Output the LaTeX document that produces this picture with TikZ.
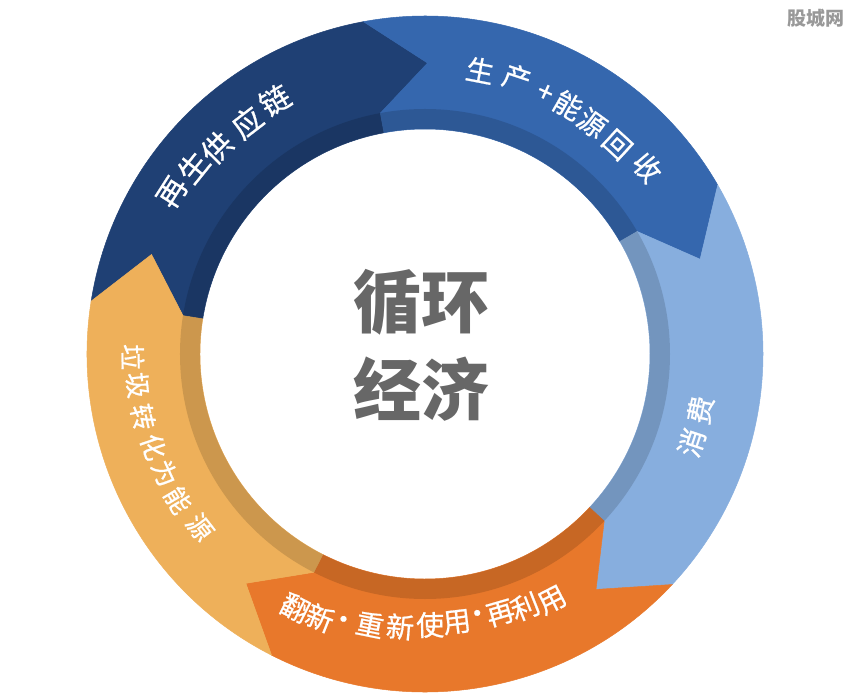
\documentclass[tikz,border=0pt]{standalone}
\usepackage{fontspec}
\newfontfamily\cjk{Noto Sans CJK SC}
\newfontfamily\cjkm[FakeBold=0.7]{Noto Sans CJK SC}
\definecolor{navy}{RGB}{31,64,116}
\definecolor{midblue}{RGB}{53,103,174}
\definecolor{ltblue}{RGB}{135,174,222}
\definecolor{orng}{RGB}{232,120,43}
\definecolor{ltorng}{RGB}{238,176,90}
\definecolor{ctrgray}{RGB}{103,103,103}
\def\Ro{338}\def\Ra{245}\def\Ri{225}\def\Rm{291}\def\dd{11}
\newcommand\ringseg[3]{%
  \fill[#3,draw=#3,line width=0.5pt] (#1:\Ro) arc[start angle=#1,end angle=#2,radius=\Ro]
    -- ({#2-\dd}:\Rm) -- (#2:\Ra) -- (#2:\Ri)
    arc[start angle=#2,end angle=#1,radius=\Ri]
    -- (#1:\Ra) -- ({#1-\dd}:\Rm) -- cycle;}
\tikzset{
  lbl/.style={font=\cjkm\fontsize{28}{28}\selectfont, text=white, inner sep=0pt, anchor=center},
  ctr/.style={font=\cjk\bfseries\fontsize{68}{68}\selectfont, text=ctrgray, inner sep=0pt},
  wmark/.style={font=\cjk\bfseries\fontsize{19}{19}\selectfont, text=black!40, inner sep=0pt}
}
\begin{document}
\begin{tikzpicture}[x=1pt,y=1pt]
\useasboundingbox (-425,-342) rectangle (429,354);
\fill[white] (-425,-342) rectangle (429,354);
% ring segments (tail angle, head angle)
\ringseg{171}{100.5}{navy}
\ringseg{100.5}{30}{midblue}
\ringseg{30}{-43}{ltblue}
\ringseg{-43}{-117}{orng}
\ringseg{243}{171}{ltorng}
% inner darker band
\fill[black,opacity=0.14,even odd rule] (0,0) circle[radius=\Ra] circle[radius=\Ri];
% labels
\foreach \a/\r/\c [count=\i] in {147.4/300/再, 141.1/298/生, 135.3/293/供, 127.5/292/应, 120.6/295/链}
  \node[lbl,font=\cjkm\fontsize{30}{30}\selectfont,rotate=\a-90] (n\i) at (\a:\r) {\c};
\foreach \a/\r/\c [count=\i] in {79/289/生, 71.6/291/产, 65.3/287/+, 60.1/287/能, 54.1/285/源, 47.4/284/回, 40/290/收}
  \node[lbl,rotate=\a-90] (p\i) at (\a:\r) {\c};
\foreach \a/\r/\c [count=\i] in {-11.5/281/费, -18.4/281/消}
  \node[lbl,rotate=\a+90] (x\i) at (\a:\r) {\c};
\foreach \a/\r/\c [count=\i] in {-117.1/285/翻, -111.7/284/新, -107.1/281/·, -101.5/276/重, -95.2/274/新, -88.9/271/使, -83.2/270/用, -78.6/268/·, -73.8/270/再, -68.4/272/利, -62.7/277/用}
  \node[lbl,rotate=\a+90] (b\i) at (\a:\r) {\c};
\foreach \a/\r/\c [count=\i] in {180.6/292/垃, 186.2/289/圾, 192.6/289/转, 198.9/287/化, 204.6/286/为, 210.6/287/能, 217.6/284/源}
  \node[lbl,font=\cjkm\fontsize{26}{26}\selectfont,rotate=\a+90] (l\i) at (\a:\r) {\c};
% centre text
\node[ctr] (c1) at (-3,52) {循环};
\node[ctr] (c2) at (-3,-35) {经济};
% watermark
\node[wmark] (wm) at (391,336) {股城网};
\end{tikzpicture}
\end{document}
